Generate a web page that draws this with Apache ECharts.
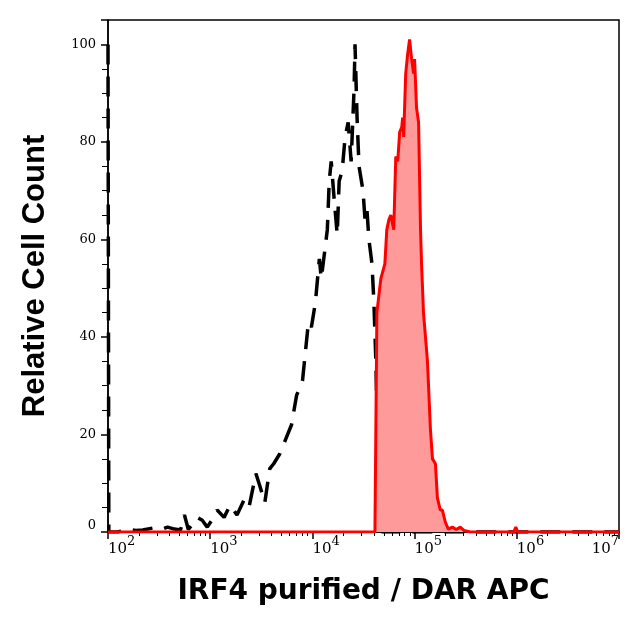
<!DOCTYPE html>
<html>
<head>
<meta charset="utf-8">
<script src="https://cdn.jsdelivr.net/npm/echarts@6/dist/echarts.min.js"></script>
<style>
  html, body { margin: 0; background: #fff; }
  #chart { width: 640px; height: 631px; }
</style>
</head>
<body>
<div id="chart"></div>
<script>
// x positions are log10 of the intensity, y is relative cell count (mode = 100)
const controlExp = [2.0, 2.008, 2.097, 2.194, 2.272, 2.340, 2.437, 2.515, 2.583, 2.650, 2.709, 2.748, 2.786,
  2.874, 2.922, 2.971, 3.019, 3.068, 3.136, 3.194, 3.262, 3.330, 3.379, 3.447, 3.485, 3.534, 3.583,
  3.621, 3.680, 3.738, 3.796, 3.845, 3.903, 3.932, 3.961, 3.990, 4.029, 4.068, 4.087, 4.117, 4.146,
  4.165, 4.184, 4.214, 4.243, 4.262, 4.291, 4.320, 4.350, 4.379, 4.408, 4.417, 4.437, 4.456, 4.495,
  4.515, 4.534, 4.553, 4.583, 4.602, 4.621, 4.641, 4.660, 4.680, 7.0];
const controlCount = [100, 0, 0, 0.6, 0.3, 0.4, 0.8, 0.5, 1.0, 0.6, 0.4, 3.5, 0.5,
  3.0, 2.4, 1.0, 2.5, 4.5, 3.0, 5.5, 3.5, 6.5, 5.0, 12, 9.5, 6, 13,
  14, 16, 19, 22, 28, 31, 37, 43, 42, 47, 56, 52, 57, 62,
  72, 76, 68, 61, 72, 74, 81, 84, 76, 91, 100, 85, 75, 70,
  64, 66, 60, 55, 47, 35, 15, 2, 0, 0];

const stainedExp = [2.0, 4.612, 4.631, 4.670, 4.709, 4.728, 4.748, 4.767, 4.796, 4.816, 4.835, 4.854,
  4.874, 4.883, 4.893, 4.913, 4.932, 4.951, 4.971, 4.990, 5.000, 5.019, 5.039, 5.058, 5.068, 5.087,
  5.126, 5.155, 5.175, 5.204, 5.223, 5.252, 5.272, 5.301, 5.330, 5.369, 5.408, 5.447, 5.485, 5.544,
  5.971, 5.990, 6.010, 7.0];
const stainedCount = [0, 0, 45, 52, 55, 62, 64, 65, 62, 77, 76, 82,
  83, 85, 81, 94, 98, 101, 97, 94, 97, 87, 84, 62, 55, 45,
  35, 21, 15, 14, 7, 4.5, 4.5, 2, 0.6, 1.0, 0.5, 1.0, 0.3, 0,
  0, 1.0, 0, 0];

const xMinExp = 2;
const xMaxExp = 7;
const yMax = 105;
const yStep = 20;

const toPairs = (exps, counts) => exps.map((e, i) => [Math.pow(10, e), counts[i]]);

const chart = echarts.init(document.getElementById('chart'));
chart.setOption({
  animation: false,
  grid: {
    left: 108, right: 21, top: 20, bottom: 99,
    show: true, borderColor: '#000', borderWidth: 1.5,
    outerBoundsMode: 'none'
  },
  xAxis: {
    type: 'log',
    logBase: 10,
    min: Math.pow(10, xMinExp),
    max: Math.pow(10, xMaxExp),
    name: 'IRF4 purified / DAR APC',
    nameLocation: 'middle',
    nameGap: 46,
    nameTextStyle: { fontFamily: 'DejaVu Sans', fontWeight: 'bold', fontSize: 28, color: '#000' },
    axisLine: { lineStyle: { color: '#000', width: 1.5 } },
    axisTick: { length: 7, lineStyle: { color: '#000', width: 1.5 } },
    minorTick: { show: true, splitNumber: 9, length: 4, lineStyle: { color: '#000', width: 1 } },
    splitLine: { show: false },
    axisLabel: {
      margin: 3,
      align: 'left',
      alignMaxLabel: 'right',
      color: '#000',
      formatter: function (v) {
        return '{b|10}{s|' + Math.round(Math.log10(v)) + '}';
      },
      rich: {
        b: { fontFamily: 'DejaVu Serif', fontSize: 15, color: '#000', verticalAlign: 'bottom', lineHeight: 15 },
        s: { fontFamily: 'DejaVu Serif', fontSize: 13, color: '#000', verticalAlign: 'bottom', padding: [0, 0, 9, 0] }
      }
    }
  },
  yAxis: {
    type: 'value',
    min: 0,
    max: yMax,
    interval: yStep,
    name: 'Relative Cell Count',
    nameLocation: 'middle',
    nameRotate: 90,
    nameGap: 57,
    nameTextStyle: { fontFamily: 'Liberation Sans', fontWeight: 'bold', fontSize: 31, color: '#000' },
    axisLine: { show: true, lineStyle: { color: '#000', width: 1.5 } },
    axisTick: { show: true, length: 7, lineStyle: { color: '#000', width: 1.5 } },
    minorTick: { show: true, splitNumber: 4, length: 6, lineStyle: { color: '#000', width: 1 } },
    splitLine: { show: false },
    axisLabel: {
      margin: 12,
      showMaxLabel: false,
      verticalAlignMinLabel: 'bottom',
      fontFamily: 'DejaVu Serif',
      fontSize: 13,
      color: '#000'
    }
  },
  series: [
    {
      name: 'control',
      type: 'line',
      data: toPairs(controlExp, controlCount),
      symbol: 'none',
      lineStyle: { color: '#000', width: 3.5, type: [20, 12] },
      z: 2
    },
    {
      name: 'IRF4',
      type: 'line',
      data: toPairs(stainedExp, stainedCount),
      symbol: 'none',
      lineStyle: { color: '#ff0000', width: 3 },
      areaStyle: { color: '#ff9a9a', opacity: 1 },
      z: 3
    }
  ]
});
</script>
</body>
</html>
